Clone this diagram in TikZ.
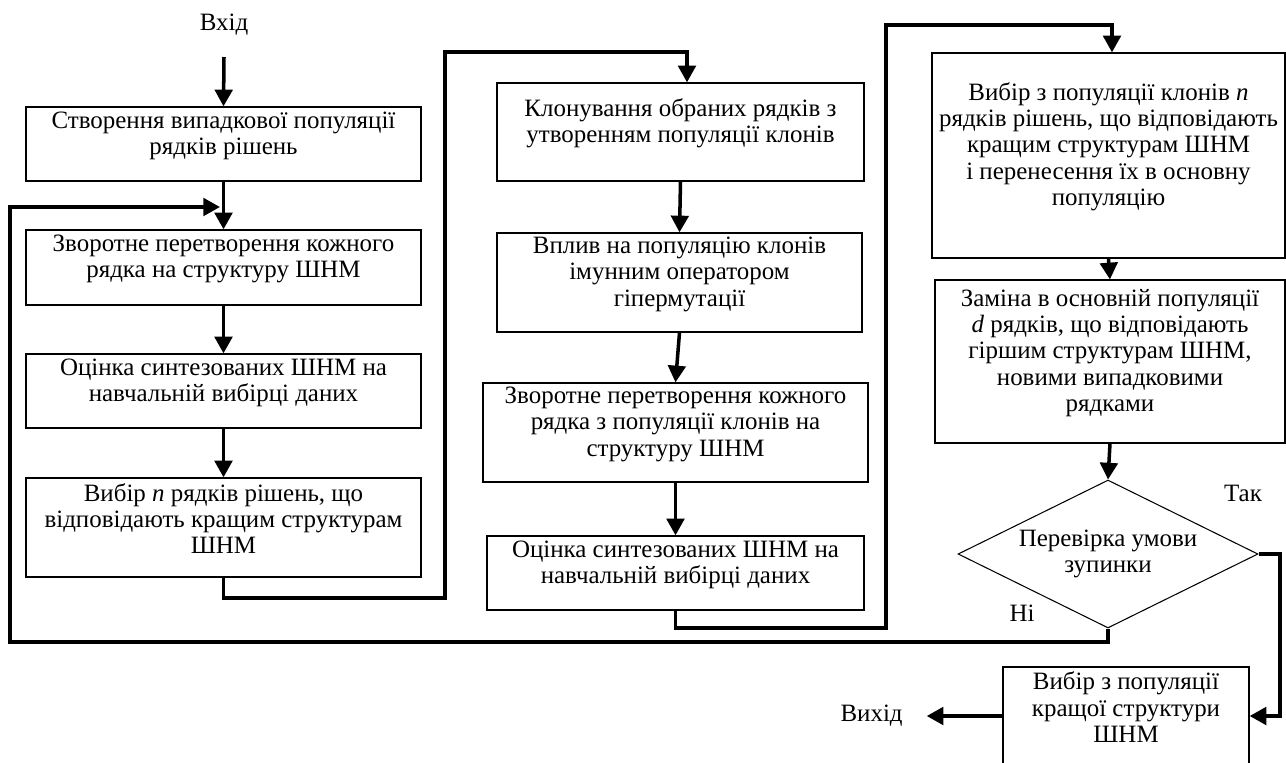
\documentclass[tikz,border=0pt]{standalone}
\usepackage{fontspec}
\setmainfont{Liberation Serif}
\usetikzlibrary{arrows.meta,shapes.geometric,fit}
\newcommand\figfont{\fontsize{14.2}{15}\selectfont}
\begin{document}
\begin{tikzpicture}[x=0.02cm,y=-0.02cm,
  box/.style={draw, line width=0.75pt, inner sep=0pt, align=center, font=\figfont},
  conn/.style={line width=2pt, -{Triangle[length=9.5pt,width=10pt]}},
  lbl/.style={inner sep=0pt, font=\figfont}]
\useasboundingbox (0,0) rectangle (1286,762);
\clip (0,0) rectangle (1286,762);

\node[lbl] (in) at (224,25) {Вхід};
\node[box, fit={(26,107) (421,181)}] (b1) {Створення випадкової популяції\\рядків рішень};
\node[box, fit={(26,230) (421,305)}] (b2) {Зворотне перетворення кожного\\рядка на структуру ШНМ};
\node[box, fit={(26,354) (421,428)}] (b3) {Оцінка синтезованих ШНМ на\\навчальній вибірці даних};
\node[box, fit={(26,478) (421,577)}] (b4) {Вибір \textit{n} рядків рішень, що\\відповідають кращим структурам\\ШНМ};
\node[box, fit={(497,83) (864,181)}] (b5) {Клонування обраних рядків з\\утворенням популяції клонів};
\node[box, fit={(497,233) (862,332)}] (b6) {Вплив на популяцію клонів\\імунним оператором\\гіпермутації};
\node[box, fit={(483,383) (868,482)}] (b7) {Зворотне перетворення кожного\\рядка з популяції клонів на\\структуру ШНМ};
\node[box, fit={(487,536) (864,610)}] (b8) {Оцінка синтезованих ШНМ на\\навчальній вибірці даних};
\node[box, fit={(932,53) (1285,258)}] (b9) {Вибір з популяції клонів \textit{n}\\рядків рішень, що відповідають\\кращим структурам ШНМ\\і перенесення їх в основну\\популяцію};
\node[box, fit={(935,280) (1285,443)}] (b10) {Заміна в основній популяції\\\textit{d} рядків, що відповідають\\гіршим структурам ШНМ,\\новими випадковими\\рядками};
\node[box, fit={(1003,667) (1249,765)}] (b11) {Вибір з популяції\\кращої структури\\ШНМ};
\node[diamond, draw, line width=0.6pt, inner sep=0pt, shape aspect=2.03, minimum width=6cm, minimum height=2.96cm, align=center, font=\figfont] (d) at (1108,554) {Перевірка умови\\зупинки};

\node[lbl] (yes) at (1243,493) {Так};
\node[lbl] (no) at (1022,613) {Ні};
\node[lbl, anchor=east] (out) at (903,716) {Вихід};

\coordinate (s0) at (224,57);
\coordinate (j) at (220,207);
\draw[conn] (s0) -- (b1.north);
\draw[conn] (b1.south) -- (b2.north);
\draw[conn] (b2.south) -- (b3.north);
\draw[conn] (b3.south) -- (b4.north);
\draw[conn] (b4.south) |- (445,598) |- (687,52) -- (687,0 |- b5.north);
\draw[conn] (b5.south) -- (b6.north);
\draw[conn] (b6.south) -- (b7.north);
\draw[conn] (b7.south) -- (b8.north);
\draw[conn] (b8.south) |- (886,628) |- (1112,25) -- (1112,0 |- b9.north);
\draw[conn] (b9.south) -- (b10.north);
\draw[conn] (b10.south) -- (d.north);
\draw[conn] (d.east) -| (1280,0 |- b11.east) -- (b11.east);
\draw[conn] (d.south) |- (10,642) |- (j);
\draw[conn, shorten >=13.5pt] (b11.west) -- (out.east);
\end{tikzpicture}
\end{document}
